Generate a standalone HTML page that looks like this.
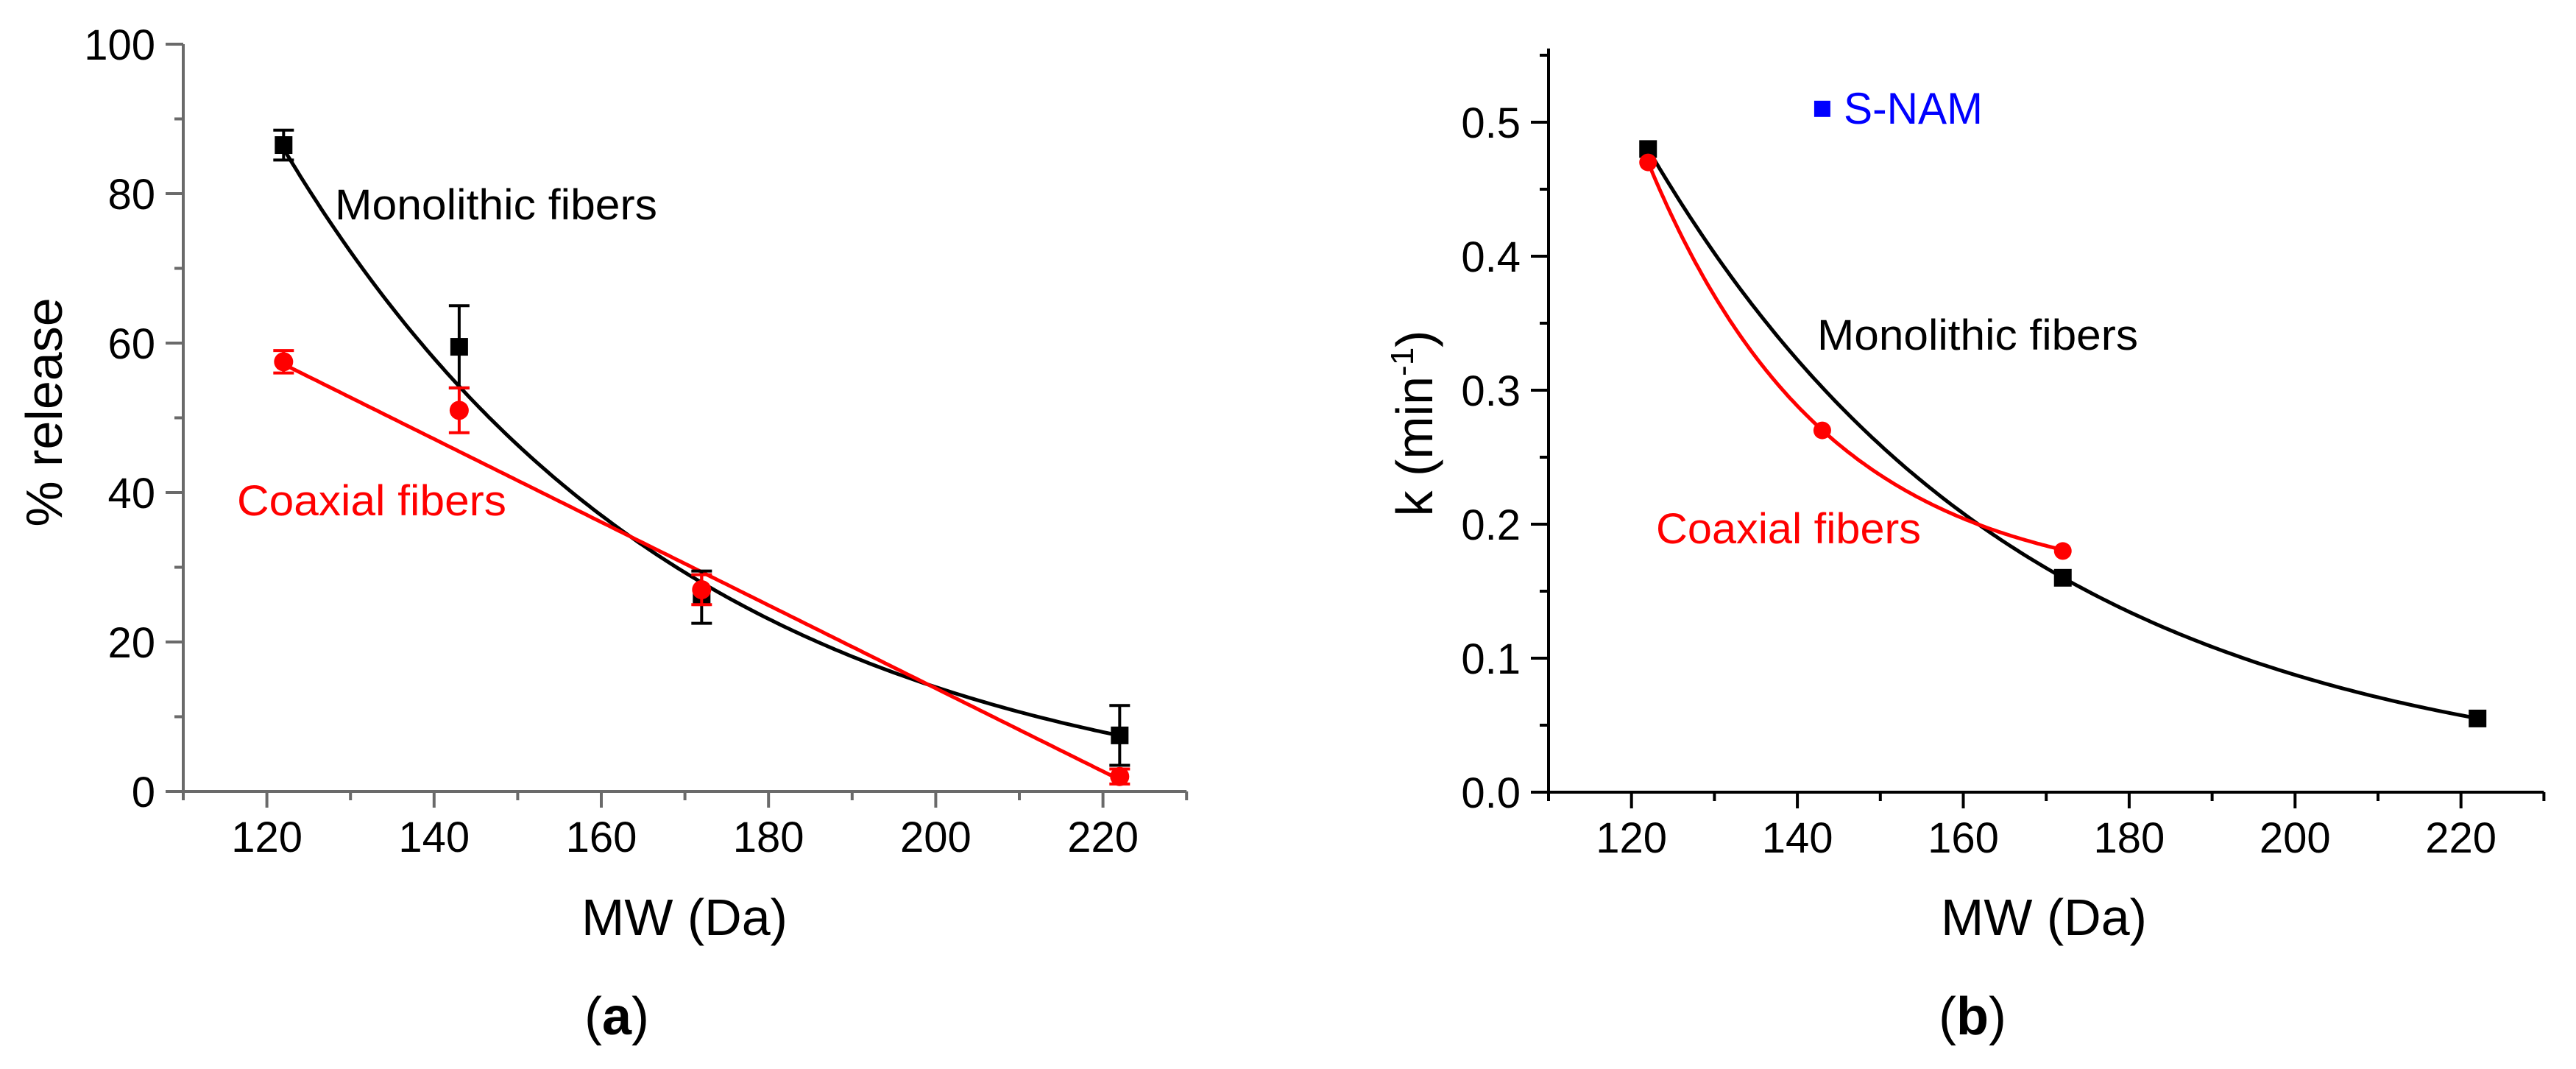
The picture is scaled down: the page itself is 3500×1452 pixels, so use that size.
<!DOCTYPE html>
<html><head><meta charset="utf-8"><style>
html,body{margin:0;padding:0;background:#fff;}
svg{display:block;}
text{font-family:"Liberation Sans",Arial,sans-serif;}
</style></head><body>
<svg id="fig" width="3500" height="1452" viewBox="0 0 3500 1452" xmlns="http://www.w3.org/2000/svg">
<rect x="0" y="0" width="3500" height="1452" fill="#fff"/>
<g id="chartA"></g>
<g id="chartB"></g>
</svg>
<script>
// ---- Chart (a) data ----
const aMW = [122, 143, 172, 222];
const aMono = [86.5, 59.5, 26, 7.5];
const aMonoErr = [2, 5.5, 3.5, 4];
const aCoax = [57.5, 51, 27, 2];
const aCoaxErr = [1.5, 3, 2, 1];
const aXTicks = [120, 140, 160, 180, 200, 220];
const aYTicks = [0, 20, 40, 60, 80, 100];
// fit params: mono exponential y = y0 + A*exp(-(x-x0)/t)
const aMonoFit = [-3.7, 89.7, 122, 48];
// linear fit for coaxial: slope, intercept
const aCoaxFit = [-0.556, 125.0];

// ---- Chart (b) data ----
const bMonoMW = [122, 172, 222];
const bMono = [0.48, 0.16, 0.055];
const bCoaxMW = [122, 143, 172];
const bCoax = [0.47, 0.27, 0.18];
const bSnam = [143, 0.51];
const bXTicks = [120, 140, 160, 180, 200, 220];
const bYTicks = [0.0, 0.1, 0.2, 0.3, 0.4, 0.5];
const bMonoFit = [0.0037, 0.4763, 122, 44.9];
const bCoaxFit = [0.1495, 0.3205, 122, 21.5];

const NS = "http://www.w3.org/2000/svg";
function mk(parent, tag, attrs, txt){
  const e = document.createElementNS(NS, tag);
  for (const k in attrs) e.setAttribute(k, attrs[k]);
  if (txt !== undefined) e.textContent = txt;
  parent.appendChild(e);
  return e;
}

function drawChart(g, cfg){
  const X = v => cfg.x0 + (v - cfg.xmin) * cfg.xs;
  const Y = v => cfg.y0 - (v - cfg.ymin) * cfg.ys;
  const axC = cfg.axisColor;
  // axes
  let e = mk(g,'line',{x1:X(cfg.xmin),y1:Y(cfg.ymin),x2:X(cfg.xmax),y2:Y(cfg.ymin),stroke:axC,'stroke-width':4});
   
  e = mk(g,'line',{x1:X(cfg.xmin),y1:Y(cfg.ymin)+2,x2:X(cfg.xmin),y2:Y(cfg.ymax),stroke:axC,'stroke-width':4});
   
  // x ticks
  for (let v = cfg.xmin; v <= cfg.xmax + 0.001; v += 10){
    const major = cfg.xTicks.indexOf(v) >= 0;
    e = mk(g,'line',{x1:X(v),y1:Y(cfg.ymin),x2:X(v),y2:Y(cfg.ymin)+(major?22:12),stroke:axC,'stroke-width':4});
     
  }
  cfg.xTicks.forEach(v=>{
    const t = mk(g,'text',{x:X(v),y:Y(cfg.ymin)+82,'font-size':58,'text-anchor':'middle',fill:'#000'}, String(v));
     
  });
  // y ticks
  const step = cfg.yTicks[1]-cfg.yTicks[0];
  for (let i = 0; i <= (cfg.ymax - cfg.ymin)/(step/2) + 0.001; i++){
    const v = cfg.ymin + i*step/2;
    if (v > cfg.ymax + 1e-9) break;
    const major = i % 2 === 0;
    e = mk(g,'line',{x1:X(cfg.xmin),y1:Y(v),x2:X(cfg.xmin)-(major?24:12),y2:Y(v),stroke:axC,'stroke-width':4});
     
  }
  cfg.yTicks.forEach(v=>{
    const t = mk(g,'text',{x:X(cfg.xmin)-38,y:Y(v)+21,'font-size':58,'text-anchor':'end',fill:'#000'}, cfg.yFmt(v));
     
  });
  return {X, Y};
}

function curvePath(X, Y, f, xa, xb){
  let d = '';
  for (let i = 0; i <= 200; i++){
    const x = xa + (xb - xa) * i / 200;
    d += (i ? 'L' : 'M') + X(x).toFixed(1) + ',' + Y(f(x)).toFixed(1);
  }
  return d;
}
function expf(p){ return x => p[0] + p[1]*Math.exp(-(x-p[2])/p[3]); }

// ===== Chart A =====
(function(){
  const g = document.getElementById('chartA');
  const {X, Y} = drawChart(g, {x0:249, xs:11.36, xmin:110, xmax:230, y0:1075, ys:10.15, ymin:0, ymax:100,
    xTicks:aXTicks, yTicks:aYTicks, yFmt:v=>String(v), axisColor:'#6a6a6a'});
  // fits
  let e = mk(g,'path',{d:curvePath(X,Y,expf(aMonoFit),aMW[0],aMW[aMW.length-1]),fill:'none',stroke:'#000','stroke-width':5});
   
  e = mk(g,'path',{d:curvePath(X,Y,x=>aCoaxFit[0]*x+aCoaxFit[1],aMW[0],aMW[aMW.length-1]),fill:'none',stroke:'#ff0000','stroke-width':5});
   
  // monolithic points
  aMW.forEach((m,i)=>{
    const cx = X(m), cy = Y(aMono[i]), t = Y(aMono[i]+aMonoErr[i]), b = Y(aMono[i]-aMonoErr[i]);
    let el = mk(g,'path',{d:`M${cx},${t}L${cx},${b}M${cx-14},${t}L${cx+14},${t}M${cx-14},${b}L${cx+14},${b}`,stroke:'#000','stroke-width':4,fill:'none'});
     
    el = mk(g,'rect',{x:cx-12,y:cy-12,width:24,height:24,fill:'#000'});
     
  });
  aMW.forEach((m,i)=>{
    const cx = X(m), cy = Y(aCoax[i]), t = Y(aCoax[i]+aCoaxErr[i]), b = Y(aCoax[i]-aCoaxErr[i]);
    let el = mk(g,'path',{d:`M${cx},${t}L${cx},${b}M${cx-14},${t}L${cx+14},${t}M${cx-14},${b}L${cx+14},${b}`,stroke:'#ff0000','stroke-width':4,fill:'none'});
     
    el = mk(g,'circle',{cx:cx,cy:cy,r:13,fill:'#ff0000'});
     
  });
  let t = mk(g,'text',{x:455,y:298,'font-size':58,fill:'#000',textLength:438,lengthAdjust:'spacingAndGlyphs'},'Monolithic fibers');
   
  t = mk(g,'text',{x:322,y:700,'font-size':58,fill:'#ff0000',textLength:366,lengthAdjust:'spacingAndGlyphs'},'Coaxial fibers');
   
  t = mk(g,'text',{x:930,y:1270,'font-size':70,'text-anchor':'middle',fill:'#000'},'MW (Da)');
   
  t = mk(g,'text',{x:0,y:0,'font-size':70,'text-anchor':'middle',fill:'#000',transform:'translate(84,560) rotate(-90)'},'% release');
   
  t = mk(g,'text',{x:838,y:1405,'font-size':72,'text-anchor':'middle',fill:'#000','font-family':'Liberation Serif, serif'},'');
   
  mk(t,'tspan',{},'(');
  mk(t,'tspan',{'font-weight':'bold'},'a');
  mk(t,'tspan',{},')');
})();

// ===== Chart B =====
(function(){
  const g = document.getElementById('chartB');
  const {X, Y} = drawChart(g, {x0:2104, xs:11.27, xmin:110, xmax:230, y0:1076, ys:1820, ymin:0, ymax:0.555,
    xTicks:bXTicks, yTicks:bYTicks, yFmt:v=>v.toFixed(1), axisColor:'#000'});
  let e = mk(g,'path',{d:curvePath(X,Y,expf(bMonoFit),bMonoMW[0],bMonoMW[bMonoMW.length-1]),fill:'none',stroke:'#000','stroke-width':5});
   
  e = mk(g,'path',{d:curvePath(X,Y,expf(bCoaxFit),bCoaxMW[0],bCoaxMW[bCoaxMW.length-1]),fill:'none',stroke:'#ff0000','stroke-width':5});
   
  bMonoMW.forEach((m,i)=>{
    const el = mk(g,'rect',{x:X(m)-12,y:Y(bMono[i])-12,width:24,height:24,fill:'#000'});
     
  });
  bCoaxMW.forEach((m,i)=>{
    const el = mk(g,'circle',{cx:X(m),cy:Y(bCoax[i]),r:12,fill:'#ff0000'});
     
  });
  e = mk(g,'rect',{x:X(bSnam[0])-11,y:Y(bSnam[1])-11,width:22,height:22,fill:'#0000ff'});
   
  let t = mk(g,'text',{x:2505,y:168,'font-size':60,fill:'#0000ff',textLength:189,lengthAdjust:'spacingAndGlyphs'},'S-NAM');
   
  t = mk(g,'text',{x:2469,y:475,'font-size':58,fill:'#000',textLength:436,lengthAdjust:'spacingAndGlyphs'},'Monolithic fibers');
   
  t = mk(g,'text',{x:2250,y:738,'font-size':58,fill:'#ff0000',textLength:360,lengthAdjust:'spacingAndGlyphs'},'Coaxial fibers');
   
  t = mk(g,'text',{x:2777,y:1270,'font-size':70,'text-anchor':'middle',fill:'#000'},'MW (Da)');
   
  t = mk(g,'text',{x:0,y:0,'font-size':70,'text-anchor':'middle',fill:'#000',transform:'translate(1946,575) rotate(-90)'},'');
   
  mk(t,'tspan',{},'k (min');
  mk(t,'tspan',{'font-size':44,dy:-26},'-1');
  mk(t,'tspan',{dy:26},')');
  t = mk(g,'text',{x:2680,y:1405,'font-size':72,'text-anchor':'middle',fill:'#000','font-family':'Liberation Serif, serif'},'');
   
  mk(t,'tspan',{},'(');
  mk(t,'tspan',{'font-weight':'bold'},'b');
  mk(t,'tspan',{},')');
})();
</script>
</body></html>
